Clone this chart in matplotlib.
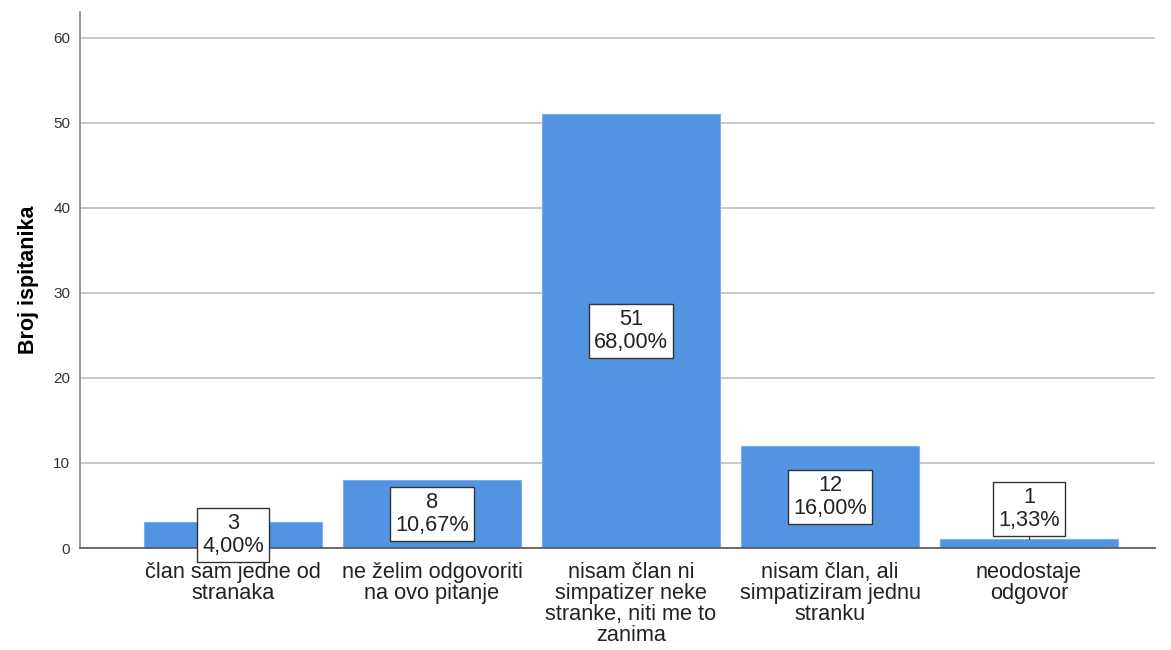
# bar chart of party membership answers, counts with percentages
import matplotlib.pyplot as plt

plt.rcParams['font.family'] = ['Liberation Sans', 'DejaVu Sans']

categories = ['član sam jedne od\nstranaka', 'ne želim odgovoriti\nna ovo pitanje',
              'nisam član ni\nsimpatizer neke\nstranke, niti me to\nzanima',
              'nisam član, ali\nsimpatiziram jednu\nstranku', 'neodostaje\nodgovor']
counts = [3, 8, 51, 12, 1]
percents = ['4,00%', '10,67%', '68,00%', '16,00%', '1,33%']
yticks = [0, 10, 20, 30, 40, 50, 60]

fig = plt.figure(figsize=(11.71, 6.5), dpi=100)
ax = fig.add_axes([80 / 1171, 1 - 548 / 650, 1075 / 1171, 536 / 650])

x = list(range(len(counts)))
ax.bar(x, counts, width=0.895, color='#5294e2', edgecolor='#7aaef0', linewidth=0.8, zorder=2)

ax.set_xlim(-0.769, 4.633)
ax.set_ylim(0, 63)
ax.set_yticks(yticks)
ax.yaxis.grid(True, color='#c4c4c4', linewidth=1.3, zorder=0)
ax.set_axisbelow(True)
ax.tick_params(axis='y', length=0, labelsize=11, pad=7, colors='#333333')
ax.tick_params(axis='x', length=0, labelsize=15.7, pad=10, colors='#222222')
ax.set_xticks(x)
ax.set_xticklabels(categories, linespacing=1.0)

for s in ['top', 'right']:
    ax.spines[s].set_visible(False)
ax.spines['left'].set_color('#888888')
ax.spines['left'].set_linewidth(1.2)
ax.spines['bottom'].set_color('#555555')
ax.spines['bottom'].set_linewidth(1.2)

ax.set_ylabel('Broj ispitanika', fontsize=15.5, fontweight='bold', labelpad=10)

# value boxes: centred in the bar, lifted above very short bars
for xi, c, p in zip(x, counts, percents):
    if c >= 2:
        yl = c / 2
    else:
        yl = c + 3.6
        ax.plot([xi, xi], [c, yl - 3], color='#333333', linewidth=0.8, zorder=3)
    ax.text(xi, yl, f'{c}\n{p}', ha='center', va='center', fontsize=15.7,
            linespacing=1.1, color='#222222', zorder=4,
            bbox=dict(boxstyle='square,pad=0.25', facecolor='white',
                      edgecolor='#333333', linewidth=1.0))

fig.savefig('out.png', dpi=100)
